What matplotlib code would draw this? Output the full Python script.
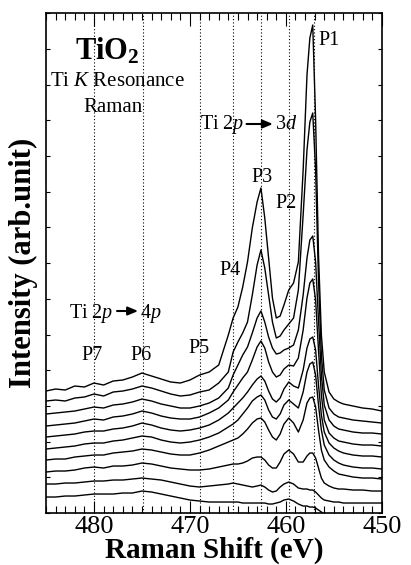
import numpy as np
import matplotlib
matplotlib.use("Agg")
import matplotlib.pyplot as plt
from matplotlib.ticker import MultipleLocator

plt.rcParams['font.family'] = 'serif'
plt.rcParams['font.serif'] = ['Liberation Serif', 'DejaVu Serif']
plt.rcParams['mathtext.fontset'] = 'custom'
plt.rcParams['mathtext.rm'] = 'Liberation Serif'
plt.rcParams['mathtext.it'] = 'Liberation Serif:italic'
plt.rcParams['mathtext.bf'] = 'Liberation Serif:bold'

# - - - - - - - DATA - - - - - - - #
energy = [485, 484, 483, 482, 481, 480, 479, 478, 477, 476, 475, 474, 473, 472, 471,
          470, 469, 468, 467, 466, 465.5, 465, 464.5, 464, 463.5, 463, 462.6, 462.2,
          461.8, 461.4, 461, 460.6, 460.2, 459.7, 459.2, 458.7, 458.2, 457.8, 457.5,
          457.2, 456.9, 456.6, 456.3, 456, 455.5, 455, 454.5, 454, 453, 452, 451, 450]

# spectra from top to bottom (arb. units, offsets included)
spec1 = [122, 124, 123, 127, 126, 130, 128, 132, 133, 136, 140, 137, 134, 131, 130, 133, 138, 141, 148, 178,
         195, 206, 226, 251, 285, 311, 325, 295, 255, 215, 195, 197, 208, 223, 230, 251, 343, 438, 475, 488,
         393, 258, 178, 141, 121, 114, 111, 109, 107, 105, 104, 102]
spec2 = [112, 113, 112, 115, 116, 119, 117, 121, 122, 124, 127, 125, 122, 119, 117, 118, 121, 123, 130, 141,
         161, 171, 180, 191, 218, 248, 263, 245, 218, 191, 175, 177, 183, 189, 195, 223, 298, 363, 391, 400,
         343, 233, 158, 123, 105, 99, 96, 95, 93, 92, 91, 90]
spec3 = [99, 100, 101, 102, 104, 106, 105, 108, 109, 111, 114, 112, 109, 107, 105, 105, 107, 110, 115, 125,
         138, 148, 158, 166, 180, 195, 202, 191, 176, 165, 159, 160, 163, 165, 168, 183, 218, 255, 273, 277,
         251, 193, 138, 108, 93, 87, 84, 83, 81, 80, 80, 79]
spec4 = [87, 88, 89, 90, 92, 94, 93, 96, 97, 99, 102, 100, 97, 95, 94, 94, 96, 100, 105, 113,
         121, 128, 135, 141, 153, 166, 172, 165, 151, 141, 136, 138, 144, 148, 147, 155, 183, 215, 230, 234,
         213, 163, 118, 93, 80, 75, 72, 71, 69, 68, 68, 67]
spec5 = [76, 77, 78, 79, 81, 82, 82, 84, 85, 87, 90, 88, 85, 83, 82, 83, 85, 88, 93, 100,
         105, 110, 115, 121, 128, 134, 137, 132, 122, 114, 111, 115, 124, 131, 127, 125, 143, 165, 174, 176,
         163, 128, 98, 81, 70, 65, 62, 60, 58, 57, 57, 56]
spec6 = [64, 65, 66, 67, 69, 70, 70, 72, 73, 75, 77, 76, 73, 71, 70, 71, 73, 76, 80, 86,
         89, 93, 99, 105, 112, 116, 118, 113, 103, 96, 94, 99, 108, 113, 109, 105, 121, 141, 149, 151,
         138, 108, 83, 68, 58, 53, 50, 48, 46, 45, 45, 44]
spec7 = [53, 54, 54, 56, 57, 58, 58, 60, 61, 62, 64, 63, 61, 59, 58, 58, 60, 63, 67, 71,
         73, 75, 79, 84, 90, 94, 95, 91, 83, 76, 73, 79, 89, 95, 90, 81, 93, 110, 115, 116,
         106, 83, 63, 53, 46, 42, 39, 38, 36, 35, 35, 34]
spec8 = [41, 42, 42, 43, 45, 46, 45, 47, 47, 48, 50, 49, 47, 45, 44, 43, 43, 44, 46, 48,
         49, 49, 50, 52, 55, 56, 56, 53, 48, 45, 45, 51, 59, 63, 59, 51, 51, 57, 60, 60,
         55, 45, 35, 30, 27, 25, 24, 24, 23, 23, 22, 22]
spec9 = [29, 29, 30, 30, 31, 32, 32, 33, 33, 34, 35, 34, 33, 31, 29, 27, 26, 27, 28, 29,
         30, 29, 28, 27, 26, 27, 28, 26, 23, 21, 22, 26, 29, 31, 29, 25, 24, 24, 23, 23,
         21, 18, 15, 13, 12, 11, 11, 10, 10, 10, 10, 10]
spec10 = [16, 16, 17, 17, 18, 19, 19, 19, 20, 20, 22, 21, 19, 17, 15, 13, 12, 11, 11, 11,
          11, 11, 10, 10, 10, 10, 10, 10, 9, 9, 10, 11, 13, 14, 12, 9, 7, 7, 6, 6,
          5, 3, 1, -1, -3, -5, -6, -7, -8, -8, -9, -9]
spectra = [spec1, spec2, spec3, spec4, spec5, spec6, spec7, spec8, spec9, spec10]

peak_pos = [457.1, 459.7, 462.6, 465.5, 469.0, 474.9, 480.0]
peak_names = ['P1', 'P2', 'P3', 'P4', 'P5', 'P6', 'P7']

# - - - - - - - PLOT - - - - - - - #
fig = plt.figure(figsize=(4.11, 5.65), dpi=100)
ax = fig.add_axes([0.112, 0.092, 0.817, 0.885])

for x in peak_pos:
    ax.axvline(x, color='k', lw=0.8, ls=(0, (1, 2)), zorder=1)

for s in spectra:
    ax.plot(energy, s, color='k', lw=1.0, zorder=2)

ax.set_xlim(485, 450)
ax.set_ylim(0, 500)
ax.xaxis.set_major_locator(MultipleLocator(10))
ax.xaxis.set_minor_locator(MultipleLocator(1))
ax.set_yticks(np.arange(0, 500, 35.7))
ax.set_yticklabels([])
ax.tick_params(axis='x', which='both', direction='in', top=True, labelsize=19, width=0.8, pad=2)
ax.tick_params(axis='x', which='major', length=9)
ax.tick_params(axis='x', which='minor', length=5)
ax.tick_params(axis='y', direction='in', right=True, length=3, width=0.8)
for sp in ax.spines.values():
    sp.set_linewidth(1.2)

ax.set_xlabel('Raman Shift (eV)', fontsize=21, fontweight='bold', labelpad=-1)
ax.set_ylabel('Intensity (arb.unit)', fontsize=22, fontweight='bold', labelpad=2)

# annotations
ax.text(481.98, 453, r'$\mathbf{TiO_2}$', fontsize=22, va='baseline')
ax.text(484.58, 427, r'Ti $K$ Resonance', fontsize=15, va='baseline')
ax.text(481.15, 401, 'Raman', fontsize=15, va='baseline')

arrow = dict(arrowstyle='-|>,head_length=0.6,head_width=0.25', color='k', lw=1.5,
             shrinkA=0, shrinkB=0)
ax.text(464.27, 384, r'Ti 2$p$', ha='right', fontsize=14.5, va='baseline')
ax.annotate('', xy=(461.35, 389), xytext=(464.1, 389), arrowprops=arrow)
ax.text(461.15, 384, r'3$d$', ha='left', fontsize=14.5, va='baseline')

ax.text(478.02, 195, r'Ti 2$p$', ha='right', fontsize=14.5, va='baseline')
ax.annotate('', xy=(475.4, 202), xytext=(477.6, 202), arrowprops=arrow)
ax.text(475.2, 195, r'4$p$', ha='left', fontsize=14.5, va='baseline')

label_xy = [(455.5, 468), (459.95, 305), (462.45, 331), (465.8, 238),
            (469.06, 160), (475.05, 153), (480.16, 153)]
for name, (lx, ly) in zip(peak_names, label_xy):
    ax.text(lx, ly, name, ha='center', va='baseline', fontsize=14.5)

plt.savefig('out.png', dpi=100)
